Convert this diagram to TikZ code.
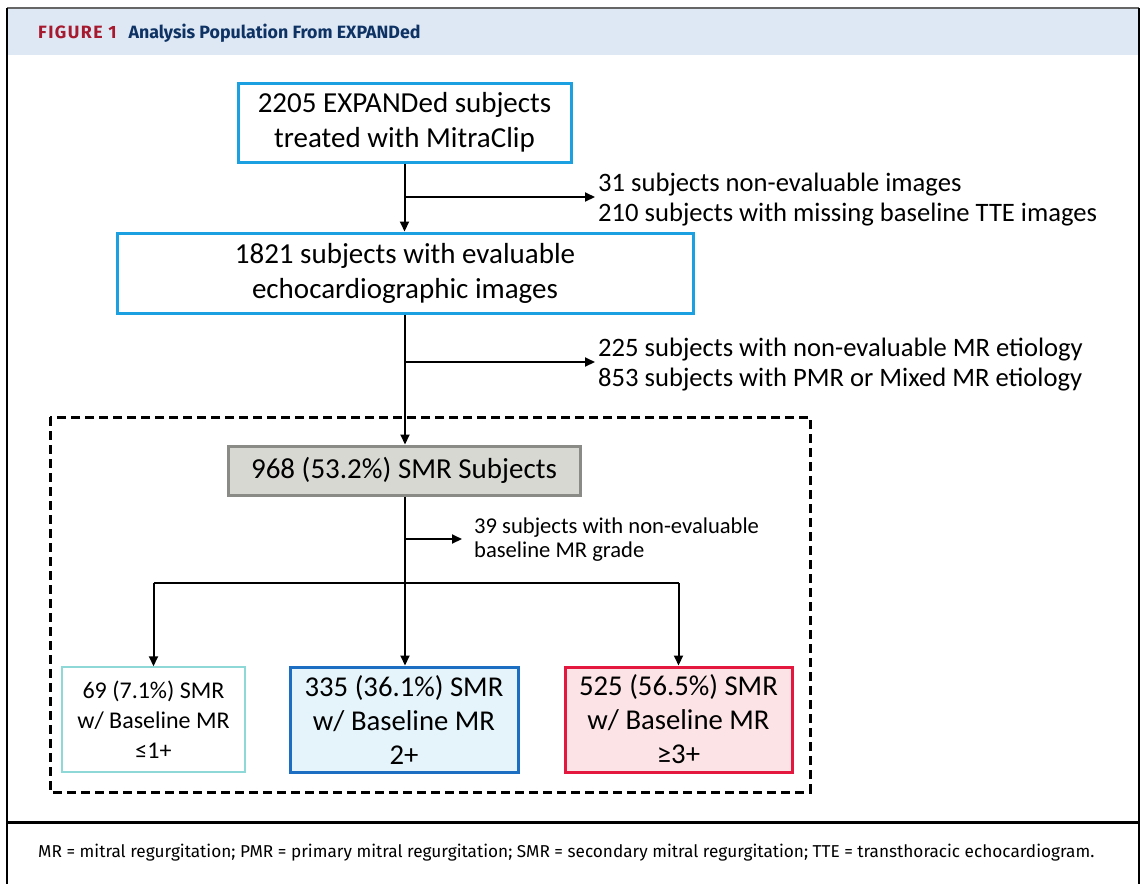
\documentclass[tikz,border=0pt]{standalone}
\usepackage{fontspec}
\setmainfont{Carlito}
\newfontfamily\hdr{Fira Sans}
\usetikzlibrary{arrows.meta}
\definecolor{hdrband}{HTML}{DDE8F4}
\definecolor{figred}{HTML}{A6192E}
\definecolor{navy}{HTML}{0D3263}
\definecolor{skyb}{HTML}{1BA1E2}
\definecolor{tealb}{HTML}{8FD8D8}
\definecolor{blueb}{HTML}{1B6EC2}
\definecolor{bluef}{HTML}{E5F4FB}
\definecolor{redb}{HTML}{E4173E}
\definecolor{redf}{HTML}{FCE4E6}
\definecolor{grayf}{HTML}{D8D8D3}
\definecolor{grayb}{HTML}{8A8A86}
\tikzset{
  flowbox/.style={draw, line width=3pt, align=center, inner sep=0pt, font=\fontsize{29}{35}\selectfont},
  conn/.style={line width=2pt, draw=black},
  arr/.style={conn, -{Triangle[length=10pt,width=9pt]}},
  sidetext/.style={anchor=west, align=left, inner sep=0pt, font=\fontsize{26.6}{30}\selectfont}
}
\begin{document}
\begin{tikzpicture}[x=1pt,y=-1pt]
\useasboundingbox (0,0) rectangle (1142,884);
% frame
\fill[hdrband] (7,8) rectangle (1139,55);
\draw[line width=2pt, draw=gray!80!black] (7,8) -- (1139,8);
\draw[line width=2.5pt] (7,8) -- (7,884);
\draw[line width=2.5pt] (1139,8) -- (1139,884);
\draw[line width=3pt] (7,822) -- (1139,822);
\node[anchor=west, inner sep=0pt, font=\hdr\bfseries\fontsize{17.8}{20}\selectfont] (title) at (38,33)
  {\addfontfeature{LetterSpace=8}\color{figred}FIGURE 1\hspace{12pt}\addfontfeature{LetterSpace=0}\color{navy}Analysis Population From EXPANDed};
\node[anchor=west, inner sep=0pt, font=\hdr\fontsize{17.2}{20}\selectfont] (foot) at (38,853)
  {MR = mitral regurgitation; PMR = primary mitral regurgitation; SMR = secondary mitral regurgitation; TTE = transthoracic echocardiogram.};
% dashed region
\draw[line width=3pt, dash pattern=on 9pt off 5pt] (50,417) rectangle (810,792);
% boxes
\node[flowbox, draw=skyb, minimum width=333pt, minimum height=79pt] (b1) at (404.5,122.5)
  {2205 EXPANDed subjects\\treated with MitraClip};
\node[flowbox, draw=skyb, minimum width=576pt, minimum height=80pt] (b2) at (405,273)
  {1821 subjects with evaluable\\echocardiographic images};
\node[flowbox, draw=grayb, fill=grayf, minimum width=352pt, minimum height=49pt] (smr) at (404,470.5)
  {968 (53.2\%) SMR Subjects};
\node[flowbox, line width=1.5pt, draw=tealb, fill=white, minimum width=183pt, minimum height=105pt, font=\fontsize{24}{30}\selectfont] (ga) at (153.5,719.5)
  {69 (7.1\%) SMR\\w/ Baseline MR\\≤1+};
\node[flowbox, draw=blueb, fill=bluef, minimum width=228pt, minimum height=105pt, font=\fontsize{28.7}{34}\selectfont] (gb) at (404,719.5)
  {335 (36.1\%) SMR\\w/ Baseline MR\\2+};
\node[flowbox, draw=redb, fill=redf, minimum width=227pt, minimum height=105pt, font=\fontsize{28.7}{34}\selectfont] (gc) at (678.5,719.5)
  {525 (56.5\%) SMR\\w/ Baseline MR\\≥3+};
% side texts
\node[sidetext] (x1) at (598,200) {31 subjects non-evaluable images\\210 subjects with missing baseline TTE images};
\node[sidetext] (x2) at (598,365) {225 subjects with non-evaluable MR etiology\\853 subjects with PMR or Mixed MR etiology};
\node[sidetext, font=\fontsize{22.6}{24}\selectfont] (x3) at (474,540) {39 subjects with non-evaluable\\baseline MR grade};
% connectors
\coordinate (j1) at (b1.south |- 0,197);
\coordinate (e1) at (595,197);
\coordinate (j2) at (405,362);
\coordinate (e2) at (595,362);
\coordinate (j3) at (405,539);
\coordinate (e3) at (462,539);
\coordinate (s) at (405,583);
\coordinate (sl) at (153.5,583);
\coordinate (sr) at (678.5,583);
\draw[arr] (b1.south) -- (b1.south |- b2.north);
\draw[arr] (j1) -- (e1);
\draw[arr] (b2.south -| j2) -- (smr.north -| j2);
\draw[arr] (j2) -- (e2);
\draw[conn] (smr.south -| s) -- (s);
\draw[arr] (j3) -- (e3);
\draw[arr] (s) -- (gb.north -| s);
\draw[conn] (sl) -- (sr);
\draw[arr] (sl) -- (ga.north);
\draw[arr] (sr) -- (gc.north);
\end{tikzpicture}
\end{document}
